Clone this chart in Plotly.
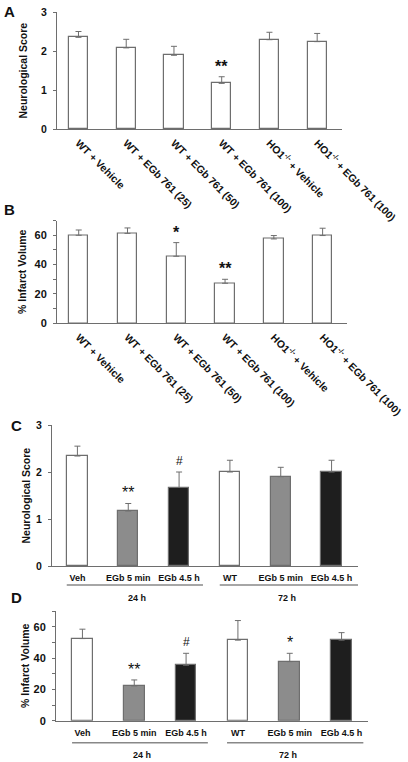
import plotly.graph_objects as go

W, H = 408, 762

# ---------------- data ----------------
ab_labels = ["WT + Vehicle", "WT + EGb 761 (25)", "WT + EGb 761 (50)", "WT + EGb 761 (100)",
             "HO1<sup>-/-</sup> + Vehicle", "HO1<sup>-/-</sup> + EGb 761 (100)"]
a_means = [2.35, 2.08, 1.89, 1.17, 2.29, 2.24]
a_errs = [0.15, 0.22, 0.23, 0.17, 0.19, 0.21]
a_marks = ["", "", "", "**", "", ""]

b_means = [60.0, 61.3, 45.7, 27.3, 57.5, 59.8]
b_errs = [3.6, 3.7, 9.3, 2.7, 2.3, 5.0]
b_marks = ["", "", "*", "**", "", ""]

cd_labels = ["Veh", "EGb 5 min", "EGb 4.5 h", "WT", "EGb 5 min", "EGb 4.5 h"]
cd_groups = ["24 h", "72 h"]
c_means = [2.34, 1.17, 1.67, 2.00, 1.90, 2.00]
c_errs = [0.21, 0.16, 0.33, 0.25, 0.20, 0.25]
c_marks = ["", "**", "#", "", "", ""]

d_means = [52.4, 22.2, 35.4, 51.4, 37.7, 51.4]
d_errs = [6.0, 3.8, 7.6, 12.5, 5.3, 4.8]
d_marks = ["", "**", "#", "", "*", ""]

cd_colors = ["#ffffff", "#8c8c8c", "#1e1e1e", "#ffffff", "#8c8c8c", "#1e1e1e"]

FONT = "Liberation Sans, Arial, sans-serif"
GRAY = "#6e6e6e"

def px_x(p):
    return p / W

def px_y(p):
    return 1 - p / H

fig = go.Figure()

panels = [
    ("1", a_means, a_errs, a_marks, ["#ffffff"] * 6, (57, 342), (12, 129), [-0.45, 5.52], [0, 3]),
    ("2", b_means, b_errs, b_marks, ["#ffffff"] * 6, (57, 347), (220.6, 323.3), [-0.445, 5.5], [0, 70]),
    ("3", c_means, c_errs, c_marks, cd_colors, (52, 358), (425, 566), [-0.5, 5.52], [0, 3]),
    ("4", d_means, d_errs, d_marks, cd_colors, (56, 368), (611, 720.7), [-0.51, 5.51], [0, 70]),
]

xs = list(range(6))
layout_axes = {}
for i, (n, means, errs, marks, colors, xd, yd, xr, yr) in enumerate(panels):
    xa = "x" if n == "1" else "x" + n
    ya = "y" if n == "1" else "y" + n
    fig.add_trace(go.Bar(
        x=xs, y=means, width=0.4, xaxis=xa, yaxis=ya,
        marker=dict(color=colors, line=dict(color=GRAY, width=1.2)),
        error_y=dict(type="data", array=errs, arrayminus=[0] * 6, symmetric=False,
                     color=GRAY, thickness=1, width=3),
        showlegend=False, hoverinfo="skip",
    ))
    xkey = "xaxis" if n == "1" else "xaxis" + n
    ykey = "yaxis" if n == "1" else "yaxis" + n
    rotated = n in ("1", "2")
    big = yr[1] == 70
    layout_axes[xkey] = dict(
        domain=[px_x(xd[0]), px_x(xd[1])], range=xr, anchor=ya, automargin=False,
        tickvals=xs, ticktext=ab_labels if rotated else cd_labels,
        tickangle=45 if rotated else 0,
        tickfont=dict(family=FONT, size=10.5 if rotated else 9, color="#111", weight="bold"),
        showline=True, linecolor=GRAY, linewidth=1, ticks="", showgrid=False,
        zeroline=False, fixedrange=True,
        ticklabelstandoff=3 if rotated else 3,
    )
    layout_axes[ykey] = dict(
        domain=[px_y(yd[1]), px_y(yd[0])], range=yr, anchor=xa, automargin=False,
        tickvals=[0, 20, 40, 60] if big else [0, 1, 2, 3],
        tickfont=dict(family=FONT, size=11 if big else 10.5, color="#111", weight="bold"),
        showline=True, linecolor=GRAY, linewidth=1, ticks="outside", ticklen=3,
        tickcolor=GRAY, showgrid=False, zeroline=False, fixedrange=True,
        ticklabelstandoff=4,
        minor=dict(tickvals=[10, 30, 50, 70], ticks="outside", ticklen=3, tickcolor=GRAY) if big else None,
    )
    for j, m in enumerate(marks):
        if m:
            bold = n in ("1", "2")
            fig.add_annotation(
                x=j, y=means[j] + errs[j], xref=xa, yref=ya, text=("<b>%s</b>" % m) if bold else m,
                showarrow=False, yanchor="bottom", yshift=0 if "*" in m else 2,
                font=dict(family=FONT, size=16 if "*" in m else 12, color="#111"),
            )

fig.update_layout(**layout_axes)

# group lines and labels for C and D
group_specs = [
    ("x3", "y3 domain", -0.135, -0.227, [(-0.21, 2.47), (2.8, 5.52)], [1.17, 4.12]),
    ("x4", "y4 domain", -0.20, -0.313, [(-0.2, 2.42), (2.79, 5.42)], [1.15, 3.97]),
]
for xa, yref, ly, ty, spans, centers in group_specs:
    for (a, b) in spans:
        fig.add_shape(type="line", xref=xa, yref=yref, x0=a, x1=b, y0=ly, y1=ly,
                      line=dict(color="#888888", width=1.5))
    for g, c in zip(cd_groups, centers):
        fig.add_annotation(x=c, y=ty, xref=xa, yref=yref, text="<b>%s</b>" % g, showarrow=False,
                           yanchor="middle", font=dict(family=FONT, size=9, color="#111"))

# y-axis titles
for text, xp, yp in [("Neurological Score", 22, 70.5), ("% Infarct Volume", 22, 272),
                     ("Neurological Score", 25, 495.5), ("% Infarct Volume", 25, 666)]:
    fig.add_annotation(x=px_x(xp), y=px_y(yp), xref="paper", yref="paper", text="<b>%s</b>" % text,
                       textangle=-90, showarrow=False, xanchor="center", yanchor="middle",
                       font=dict(family=FONT, size=10.5, color="#111"))

# panel letters
for text, xp, yp in [("A", 9, 12), ("B", 9, 210), ("C", 16, 425), ("D", 16, 597)]:
    fig.add_annotation(x=px_x(xp), y=px_y(yp), xref="paper", yref="paper", text="<b>%s</b>" % text,
                       showarrow=False, xanchor="center", yanchor="middle",
                       font=dict(family=FONT, size=15, color="#111"))

fig.update_layout(width=W, height=H, margin=dict(l=0, r=0, t=0, b=0, autoexpand=False),
                  paper_bgcolor="white", plot_bgcolor="white", bargap=0)

fig.write_html("out.html", config={"displayModeBar": False},
               post_script="document.body.style.margin='0';document.body.style.overflow='hidden';")
